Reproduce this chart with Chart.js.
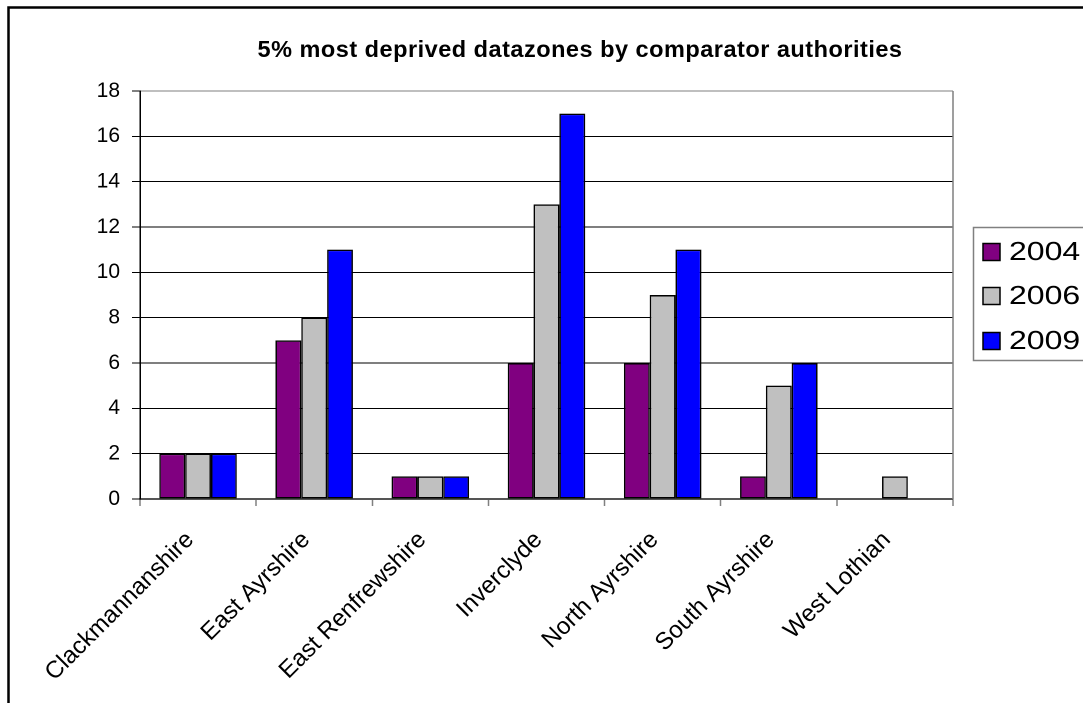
<!DOCTYPE html>
<html>
<head>
<meta charset="utf-8">
<script src="https://cdn.jsdelivr.net/npm/chart.js@4/dist/chart.umd.min.js"></script>
<style>
html,body{margin:0;padding:0;background:#fff;overflow:hidden}
#wrap{position:relative;width:1083px;height:703px}
</style>
</head>
<body>
<div id="wrap"><canvas id="c"></canvas></div>
<script>
// ---- data ----
const categories = ['Clackmannanshire','East Ayrshire','East Renfrewshire','Inverclyde','North Ayrshire','South Ayrshire','West Lothian'];
const seriesNames = ['2004','2006','2009'];
const values2004 = [2, 7, 1, 6, 6, 1, null];
const values2006 = [2, 8, 1, 13, 9, 5, 1];
const values2009 = [2, 11, 1, 17, 11, 6, null];
const yTickValues = [0, 2, 4, 6, 8, 10, 12, 14, 16, 18];
const titleText = '5% most deprived datazones by comparator authorities';
const seriesColors = ['#800080', '#C0C0C0', '#0000FF'];

const FONT = "'Liberation Sans', Arial, Helvetica, sans-serif";
Chart.defaults.font.family = FONT;
Chart.defaults.color = '#000';

const seriesValues = [values2004, values2006, values2009];
const datasets = seriesNames.map((name, i) => ({
  label: name,
  data: seriesValues[i],
  backgroundColor: seriesColors[i],
  borderColor: '#000',
  borderWidth: 1.5,
  borderSkipped: false,
  categoryPercentage: 0.667,
  barPercentage: 1.0
}));

const decor = {
  id: 'decor',
  beforeDraw(chart) {
    const ctx = chart.ctx;
    ctx.save();
    ctx.fillStyle = '#fff';
    ctx.fillRect(0, 0, chart.width, chart.height);
    // outer chart frame (left + top visible)
    ctx.strokeStyle = '#000';
    ctx.lineWidth = 2.5;
    ctx.beginPath();
    ctx.moveTo(8.5, chart.height);
    ctx.lineTo(8.5, 7.5);
    ctx.lineTo(chart.width, 7.5);
    ctx.stroke();
    // title
    ctx.fillStyle = '#000';
    ctx.font = 'bold 23.5px ' + FONT;
    ctx.letterSpacing = '0.5px';
    ctx.textAlign = 'center';
    ctx.textBaseline = 'alphabetic';
    ctx.fillText(titleText, 580, 57);
    ctx.restore();
  },
  afterDatasetsDraw(chart) {
    const ctx = chart.ctx;
    const a = chart.chartArea;
    ctx.save();
    ctx.strokeStyle = '#808080';
    ctx.lineWidth = 1.5;
    ctx.beginPath();
    ctx.moveTo(a.right, a.top);
    ctx.lineTo(a.right, a.bottom);
    ctx.stroke();
    ctx.restore();
  },
  afterDraw(chart) {
    const ctx = chart.ctx;
    const a = chart.chartArea;
    ctx.save();
    // legend box
    const bx = a.right + 20, by = 227, bh = 133;
    ctx.strokeStyle = '#808080';
    ctx.lineWidth = 1.5;
    ctx.strokeRect(bx + 0.5, by + 0.5, 200, bh);
    const rows = [252, 296, 341];
    chart.data.datasets.forEach((ds, i) => {
      const cy = rows[i];
      ctx.fillStyle = ds.backgroundColor;
      ctx.fillRect(bx + 10, cy - 8.5, 17, 17);
      ctx.strokeStyle = '#000';
      ctx.lineWidth = 1.5;
      ctx.strokeRect(bx + 10, cy - 8.5, 17, 17);
      ctx.save();
      ctx.translate(bx + 36, cy);
      ctx.scale(1.28, 1.04);
      ctx.fillStyle = '#000';
      ctx.font = '25px ' + FONT;
      ctx.textAlign = 'left';
      ctx.textBaseline = 'middle';
      ctx.fillText(ds.label, 0, 1);
      ctx.restore();
    });
    ctx.restore();
  }
};

new Chart(document.getElementById('c'), {
  type: 'bar',
  data: { labels: categories, datasets },
  options: {
    responsive: true,
    maintainAspectRatio: false,
    animation: false,
    devicePixelRatio: 2,
    layout: { padding: { left: 0, top: 91, right: 130, bottom: 0 } },
    plugins: {
      legend: { display: false },
      title: { display: false },
      tooltip: { enabled: false }
    },
    scales: {
      x: {
        offset: true,
        grid: {
          display: true,
          offset: true,
          drawOnChartArea: false,
          drawTicks: true,
          tickLength: 7,
          tickColor: '#808080',
          tickWidth: 1.5
        },
        border: { display: true, color: '#555', width: 2 },
        ticks: {
          autoSkip: false,
          minRotation: 45,
          maxRotation: 45,
          padding: 20,
          labelOffset: -8,
          color: '#000',
          font: { size: 24 }
        },
        afterFit(scale) { scale.height = 204; }
      },
      y: {
        min: 0,
        max: 18,
        afterBuildTicks(scale) { scale.ticks = yTickValues.map(v => ({ value: v })); },
        grid: {
          color: (c) => (c.tick && c.tick.value === 18) ? '#808080' : '#000',
          lineWidth: 1,
          tickLength: 8,
          tickColor: '#000',
          drawTicks: true
        },
        border: { display: true, color: '#000', width: 1.5 },
        ticks: {
          padding: 12,
          color: '#000',
          font: { size: 21 }
        },
        afterFit(scale) { scale.width = 140; }
      }
    }
  },
  plugins: [decor]
});
</script>
</body>
</html>
